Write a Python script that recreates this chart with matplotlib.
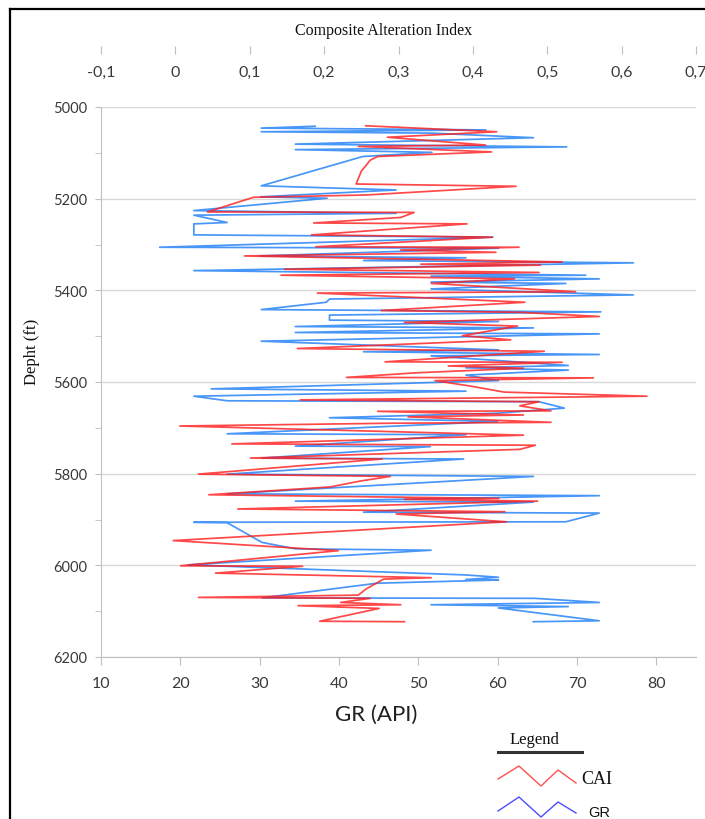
import matplotlib
matplotlib.use("Agg")
import matplotlib.pyplot as plt
from matplotlib.lines import Line2D
from matplotlib.ticker import MultipleLocator, FuncFormatter

# GR log (bottom axis), depth in ft
gr_depth = [5042, 5046, 5050, 5054, 5057, 5067, 5081, 5087, 5093, 5099,
            5108, 5172, 5181, 5196, 5199, 5226, 5232, 5236, 5252, 5255,
            5279, 5284, 5306, 5308, 5325, 5329, 5335, 5340, 5357, 5367,
            5369, 5375, 5382, 5385, 5397, 5410, 5419, 5426, 5442, 5447,
            5454, 5465, 5468, 5479, 5482, 5492, 5495, 5511, 5530, 5534,
            5540, 5543, 5564, 5569, 5574, 5585, 5597, 5615, 5620, 5631,
            5641, 5643, 5657, 5668, 5678, 5686, 5713, 5715, 5740, 5741,
            5766, 5768, 5801, 5806, 5844, 5848, 5860, 5862, 5884, 5886,
            5905, 5906, 5907, 5950, 5964, 5967, 5999, 6021, 6026, 6031,
            6032, 6039, 6071, 6072, 6081, 6086, 6090, 6093, 6121, 6123]
gr_api = [37.0, 30.2, 58.5, 30.2, 51.7, 64.5, 34.5, 68.7, 34.5, 51.7,
          43.0, 30.2, 47.2, 30.1, 38.5, 21.7, 47.2, 21.7, 25.9, 21.7,
          21.7, 59.4, 17.4, 60.1, 30.0, 56.0, 43.1, 77.1, 21.7, 71.1,
          51.6, 72.8, 51.6, 68.6, 51.6, 77.1, 38.8, 38.4, 30.2, 73.0,
          38.8, 38.8, 60.1, 34.5, 64.5, 34.5, 72.8, 30.2, 60.1, 43.1,
          72.8, 51.6, 68.9, 56.0, 68.9, 56.0, 60.1, 23.9, 56.0, 21.7,
          25.9, 65.2, 68.4, 60.0, 38.8, 60.0, 25.9, 56.0, 34.5, 51.5,
          30.3, 55.7, 25.9, 64.5, 25.9, 72.8, 34.5, 64.5, 43.1, 72.8,
          68.6, 21.7, 25.9, 30.3, 34.5, 51.6, 21.0, 56.0, 60.1, 56.0,
          60.1, 44.8, 30.3, 64.7, 72.8, 51.6, 68.9, 60.1, 72.8, 64.5]

# Composite Alteration Index (top axis)
cai_depth = [5041, 5054, 5066, 5083, 5086, 5098, 5108, 5116, 5140, 5168,
             5173, 5192, 5197, 5229, 5230, 5241, 5253, 5255, 5279, 5284,
             5305, 5306, 5312, 5317, 5325, 5338, 5343, 5345, 5354, 5361,
             5367, 5375, 5385, 5403, 5406, 5426, 5444, 5448, 5457, 5470,
             5478, 5499, 5508, 5527, 5533, 5556, 5557, 5565, 5570, 5580,
             5590, 5591, 5597, 5609, 5622, 5631, 5639, 5643, 5652, 5663,
             5664, 5672, 5676, 5688, 5690, 5696, 5716, 5735, 5738, 5747,
             5766, 5768, 5801, 5806, 5816, 5829, 5846, 5854, 5856, 5860,
             5877, 5883, 5888, 5905, 5946, 5968, 6001, 6002, 6017, 6027,
             6030, 6052, 6065, 6070, 6072, 6081, 6086, 6088, 6094, 6122,
             6123]
cai_value = [0.256, 0.432, 0.285, 0.417, 0.246, 0.425, 0.272, 0.262, 0.250, 0.243,
             0.458, 0.256, 0.105, 0.043, 0.321, 0.303, 0.186, 0.392, 0.183, 0.426,
             0.189, 0.462, 0.303, 0.431, 0.093, 0.520, 0.330, 0.491, 0.147, 0.489,
             0.142, 0.456, 0.344, 0.538, 0.191, 0.470, 0.277, 0.464, 0.570, 0.308,
             0.460, 0.386, 0.451, 0.164, 0.496, 0.282, 0.520, 0.367, 0.468, 0.323,
             0.230, 0.562, 0.349, 0.397, 0.442, 0.634, 0.168, 0.489, 0.463, 0.505,
             0.272, 0.468, 0.313, 0.505, 0.287, 0.006, 0.468, 0.076, 0.484, 0.463,
             0.101, 0.278, 0.031, 0.289, 0.249, 0.208, 0.045, 0.435, 0.308, 0.487,
             0.084, 0.443, 0.297, 0.445, -0.003, 0.219, 0.007, 0.171, 0.054, 0.344,
             0.280, 0.256, 0.246, 0.031, 0.262, 0.222, 0.303, 0.165, 0.274, 0.194,
             0.308]

gr_ticks = [10, 20, 30, 40, 50, 60, 70, 80]
cai_ticks = [-0.1, 0.0, 0.1, 0.2, 0.3, 0.4, 0.5, 0.6, 0.7]
depth_ticks = [5000, 5200, 5400, 5600, 5800, 6000, 6200]

W, H = 705, 820
tick_font = "Lato"
grey = "#bfbfbf"
label_col = "#3a3a3a"

fig = plt.figure(figsize=(W / 100, H / 100), dpi=100)
ax = fig.add_axes([101 / W, 1 - 658 / H, 595 / W, 550 / H])

# GR on the bottom axis
ax.plot(gr_api, gr_depth, color="#1a7cf5", lw=1.25, alpha=0.8)
ax.set_xlim(10, 85)
ax.set_ylim(6200, 5000)
ax.set_xticks(gr_ticks)
ax.set_yticks(depth_ticks)
ax.yaxis.set_minor_locator(MultipleLocator(100))
ax.grid(axis="y", color="#d9d9d9", lw=1)
ax.set_axisbelow(True)
for s in ["top", "right"]:
    ax.spines[s].set_visible(False)
for s in ["left", "bottom"]:
    ax.spines[s].set_color(grey)
ax.tick_params(axis="x", length=6, color=grey, pad=8, labelsize=11.5,
               labelcolor=label_col)
ax.tick_params(axis="y", which="both", length=4, color=grey, pad=6,
               labelsize=10.5, labelcolor=label_col)
for t in ax.get_xticklabels() + ax.get_yticklabels():
    t.set_fontfamily(tick_font)
ax.set_xlabel("GR (API)", fontsize=16, family=tick_font, color="#202020")
ax.xaxis.set_label_coords(0.463, -0.085)
ax.set_ylabel("Depht (ft)", fontsize=12, family="Liberation Serif", color="#111111")
ax.yaxis.set_label_coords(-0.103, 0.556)

# CAI on the detached top axis
ax2 = ax.twiny()
ax2.plot(cai_value, cai_depth, color="#ff1a1a", lw=1.25, alpha=0.8)
ax2.set_xlim(-0.1, 0.7)
ax2.set_xticks(cai_ticks)
ax2.xaxis.set_major_formatter(FuncFormatter(
    lambda v, p: "0" if abs(v) < 1e-9 else ("%.1f" % v).replace(".", ",")))
for s in ax2.spines.values():
    s.set_visible(False)
ax2.spines["top"].set_position(("outward", 38))
ax2.tick_params(axis="x", direction="out", length=6, color=grey, pad=-24,
                labelsize=11.5, labelcolor=label_col)
for t in ax2.get_xticklabels():
    t.set_fontfamily(tick_font)
fig.text(384 / W, 1 - 31 / H, "Composite Alteration Index", ha="center",
         va="center", fontsize=11.5, family="Liberation Serif", color="#111111")

# frame of the figure
fig.add_artist(Line2D([10 / W, 10 / W], [0, 1 - 10 / H], transform=fig.transFigure,
                      color="black", lw=1.6))
fig.add_artist(Line2D([10 / W, 1], [1 - 10 / H, 1 - 10 / H], transform=fig.transFigure,
                      color="black", lw=1.6))

# hand drawn legend below the chart
fig.text(534 / W, 1 - 740 / H, "Legend", ha="center", va="center", fontsize=12,
         family="Liberation Serif", color="#111111")
fig.add_artist(Line2D([498 / W, 582 / W], [1 - 753 / H, 1 - 753 / H],
                      transform=fig.transFigure, color="#333333", lw=2.2))
zig_x = [498, 519, 541, 558, 576]
red_y = [780, 767, 787, 771, 784]
blue_y = [812, 798, 818, 803, 814]
fig.add_artist(Line2D([x / W for x in zig_x], [1 - y / H for y in red_y],
                      transform=fig.transFigure, color="#ff5050", lw=1))
fig.add_artist(Line2D([x / W for x in zig_x], [1 - y / H for y in blue_y],
                      transform=fig.transFigure, color="#4d4dff", lw=1))
fig.text(581 / W, 1 - 780 / H, "CAI", ha="left", va="center", fontsize=13,
         family="Liberation Serif", color="#111111")
fig.text(588 / W, 1 - 813 / H, "GR", ha="left", va="center", fontsize=10.5,
         family="Liberation Sans", color="#111111")

fig.savefig("out.png", dpi=100)
